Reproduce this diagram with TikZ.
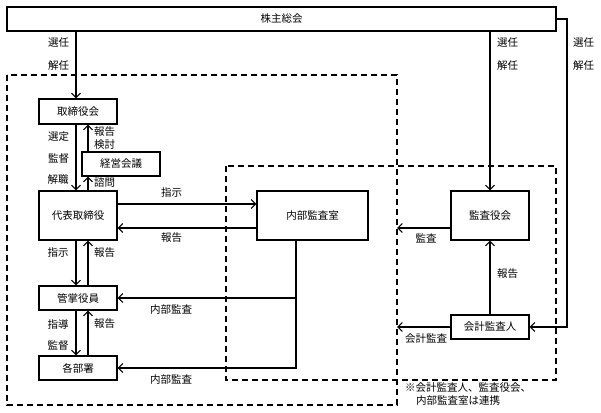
\documentclass[tikz,border=0pt]{standalone}
\usepackage{fontspec}
\setmainfont{Noto Sans CJK JP}
\usetikzlibrary{arrows.meta}
\tikzset{
  box/.style={draw, line width=1.1pt, inner sep=0pt, font=\fontsize{10.5}{12}\selectfont},
  conn/.style={line width=1.1pt},
  arr/.style={conn, -{Straight Barb[length=4.5pt,width=9pt]}},
  lab/.style={inner sep=0pt, font=\fontsize{10.5}{12}\selectfont},
  dashbox/.style={draw, line width=1.1pt, dash pattern=on 6pt off 4pt},
}
\begin{document}
\begin{tikzpicture}[x=1pt,y=-1pt]
\useasboundingbox (0,0) rectangle (601,412);
% dashed frames
\draw[dashbox] (7,75) rectangle (397,405);
\draw[dashbox] (226,166) rectangle (556,380);
% nodes
\node[box, minimum width=549pt, minimum height=24pt] (kabu) at (281.5,19) {株主総会};
\node[box, minimum width=78pt, minimum height=25pt] (tori) at (78,111.5) {取締役会};
\node[box, minimum width=78pt, minimum height=24pt, fill=white] (keiei) at (121,164) {経営会議};
\node[box, minimum width=78pt, minimum height=49pt] (daihyo) at (78,215.5) {代表取締役};
\node[box, minimum width=78pt, minimum height=24pt] (kansho) at (78,298) {管掌役員};
\node[box, minimum width=78pt, minimum height=24pt] (kakubu) at (78,368) {各部署};
\node[box, minimum width=111pt, minimum height=49pt] (naibu) at (312.5,215.5) {内部監査室};
\node[box, minimum width=78pt, minimum height=49pt] (kansa) at (490,215.5) {監査役会};
\node[box, minimum width=78pt, minimum height=24pt] (kaikei) at (490,327) {会計監査人};
% helper coordinates
\coordinate (xa) at (76,0);
\coordinate (xb) at (88,0);
\coordinate (xn) at (296,0);
\coordinate (xd) at (397,0);
\coordinate (xr) at (567,0);
\coordinate (ya) at (0,204);
\coordinate (yb) at (0,228);
% connectors
\draw[arr] (kabu.south -| xa) -- (tori.north -| xa);
\draw[arr] (tori.south -| xa) -- (daihyo.north -| xa);
\draw[arr] (keiei.north -| xb) -- (tori.south -| xb);
\draw[arr] (daihyo.north -| xb) -- (keiei.south -| xb);
\draw[arr] (daihyo.south -| xa) -- (kansho.north -| xa);
\draw[arr] (kansho.north -| xb) -- (daihyo.south -| xb);
\draw[arr] (kansho.south -| xa) -- (kakubu.north -| xa);
\draw[arr] (kakubu.north -| xb) -- (kansho.south -| xb);
\draw[arr] (daihyo.east |- ya) -- (naibu.west |- ya);
\draw[arr] (naibu.west |- yb) -- (daihyo.east |- yb);
\draw[arr] (naibu.south -| xn) |- (kakubu.east);
\draw[arr] (xn |- kansho.east) -- (kansho.east);
\draw[arr] (kabu.south -| kansa.north) -- (kansa.north);
\draw[arr] (kabu.east) -| (xr |- kaikei.east) -- (kaikei.east);
\draw[arr] (kaikei.north) -- (kansa.south);
\draw[arr] (kansa.west |- yb) -- (xd |- yb);
\draw[arr] (kaikei.west) -- (kaikei.west -| xd);
% labels
\node[lab] (l1) at (58.5,43) {選任};
\node[lab] (l2) at (58.5,65.5) {解任};
\node[lab] (l3) at (507.5,43) {選任};
\node[lab] (l4) at (507.5,65.5) {解任};
\node[lab] (l5) at (583.5,43) {選任};
\node[lab] (l6) at (583.5,65.5) {解任};
\node[lab] (l7) at (58.5,137) {選定};
\node[lab] (l8) at (58.5,158.5) {監督};
\node[lab] (l9) at (58,180) {解職};
\node[lab] (l10) at (104.5,131.5) {報告};
\node[lab] (l11) at (104.5,144.5) {検討};
\node[lab] (l12) at (104.5,183) {諮問};
\node[lab] (l13) at (171.5,192.5) {指示};
\node[lab] (l14) at (171.5,238) {報告};
\node[lab] (l15) at (58,252.5) {指示};
\node[lab] (l16) at (104.5,252.5) {報告};
\node[lab] (l17) at (171,310) {内部監査};
\node[lab] (l18) at (58,324) {指導};
\node[lab] (l19) at (58,345.5) {監督};
\node[lab] (l20) at (104.5,324) {報告};
\node[lab] (l21) at (171,380) {内部監査};
\node[lab] (l22) at (426,238) {監査};
\node[lab] (l23) at (507.5,274) {報告};
\node[lab] (l24) at (426,339) {会計監査};
\node[lab, anchor=west] (n1) at (405,388) {※会計監査人、監査役会、};
\node[lab, anchor=west] (n2) at (416,400.5) {内部監査室は連携};
\end{tikzpicture}
\end{document}
